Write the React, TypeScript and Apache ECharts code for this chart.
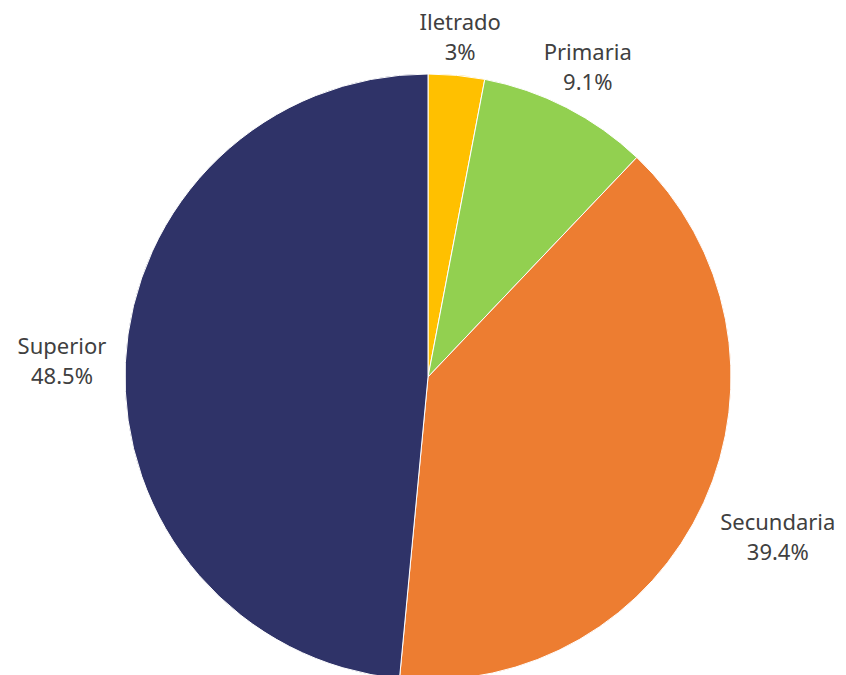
import React, { useEffect, useRef } from "react";
import * as echarts from "echarts";

const categories = ["Iletrado", "Primaria", "Secundaria", "Superior"];
const values = [3, 9.1, 39.4, 48.5];
const colors = ["#FFC000", "#92D050", "#ED7D31", "#2F3368"];

const CX = 428;
const CY = 377;
const R = 303;

export default function App() {
  const ref = useRef<HTMLDivElement>(null);
  useEffect(() => {
    if (!ref.current) return;
    const chart = echarts.init(ref.current, null, { renderer: "svg" });
    const total = values.reduce((a, b) => a + b, 0);
    const midAngles: number[] = [];
    let acc = 0;
    values.forEach((v) => {
      midAngles.push(((acc + v / 2) / total) * Math.PI * 2);
      acc += v;
    });
    chart.setOption({
      animation: false,
      series: [
        {
          type: "pie",
          center: [CX, CY],
          radius: [0, R],
          startAngle: 90,
          clockwise: true,
          avoidLabelOverlap: false,
          itemStyle: { borderColor: "#ffffff", borderWidth: 1 },
          label: {
            show: true,
            position: "outside",
            formatter: "{b}\n{c}%",
            fontFamily: "Noto Sans",
            fontSize: 22,
            lineHeight: 30,
            color: "#404040",
            align: "center",
          },
          labelLine: { show: false },
          labelLayout: (params: any) => {
            const a = midAngles[params.dataIndex];
            const sx = Math.sin(a);
            const sy = -Math.cos(a);
            const w = params.labelRect.width;
            const h = params.labelRect.height;
            const gap = 8 + 11 * Math.abs(sx);
            const px = CX + sx * (R + gap);
            const py = CY + sy * (R + gap);
            const t = Math.min(
              Math.abs(sx) > 1e-6 ? w / 2 / Math.abs(sx) : Infinity,
              Math.abs(sy) > 1e-6 ? h / 2 / Math.abs(sy) : Infinity
            );
            return {
              x: px + sx * t,
              y: py + sy * t,
              align: "center",
              verticalAlign: "middle",
            };
          },
          data: categories.map((name, i) => ({
            name,
            value: values[i],
            itemStyle: { color: colors[i] },
          })),
        },
      ],
    });
    return () => chart.dispose();
  }, []);
  return (
    <div
      ref={ref}
      style={{ position: "fixed", left: 0, top: 0, width: 846, height: 675, background: "#ffffff" }}
    />
  );
}
